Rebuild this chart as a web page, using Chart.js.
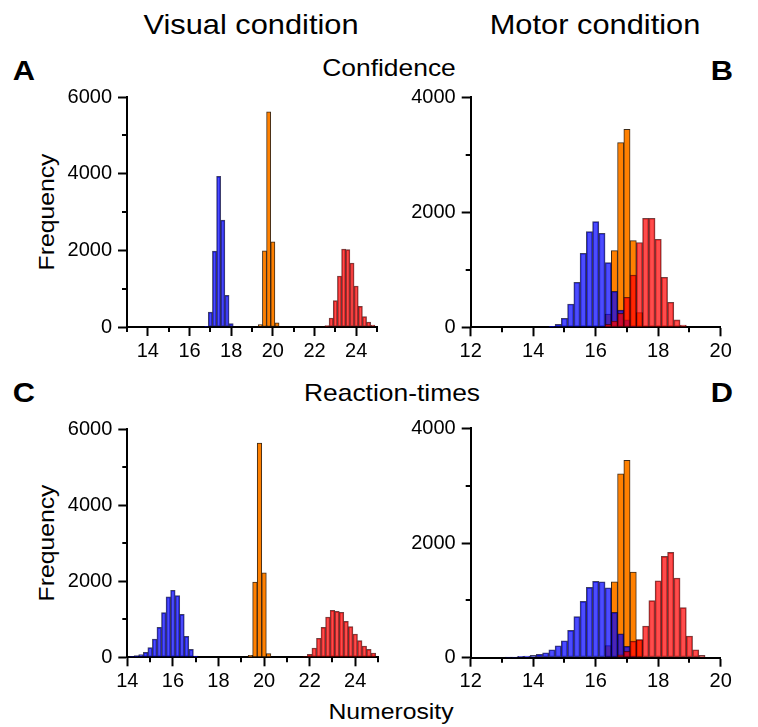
<!DOCTYPE html>
<html>
<head>
<meta charset="utf-8">
<script src="https://cdn.jsdelivr.net/npm/chart.js@4.4.1/dist/chart.umd.min.js"></script>
<style>
  body { margin: 0; background: #fff; }
  #wrap { position: relative; width: 758px; height: 727px; font-family: "Liberation Sans", Arial, sans-serif; color: #000; }
  canvas { position: absolute; }
  .lbl { position: absolute; white-space: nowrap; transform: translate(-50%, -50%) scaleX(1.1); line-height: 1; }
  .big { font-size: 28px; }
  .sub { font-size: 24px; }
  .let { font-size: 28px; font-weight: bold; }
  .axt { font-size: 22.5px; }
  .rot { transform: translate(-50%, -50%) rotate(-90deg) scaleX(1.1); }
</style>
</head>
<body>
<div id="wrap">
  <div class="lbl big" style="left:251px; top:25px;">Visual condition</div>
  <div class="lbl big" style="left:595px; top:25px;">Motor condition</div>
  <div class="lbl let" style="left:24px; top:71px;">A</div>
  <div class="lbl let" style="left:722px; top:71px;">B</div>
  <div class="lbl let" style="left:24px; top:393px;">C</div>
  <div class="lbl let" style="left:722px; top:393px;">D</div>
  <div class="lbl sub" style="left:389px; top:68px;">Confidence</div>
  <div class="lbl sub" style="left:392px; top:393px;">Reaction-times</div>
  <div class="lbl axt rot" style="left:47px; top:212px;">Frequency</div>
  <div class="lbl axt rot" style="left:47px; top:543px;">Frequency</div>
  <div class="lbl axt" style="left:391px; top:712px;">Numerosity</div>

  <canvas id="chartA" width="330" height="296" style="left:60px; top:79px;"></canvas>
  <canvas id="chartB" width="345" height="296" style="left:400px; top:79px;"></canvas>
  <canvas id="chartC" width="330" height="294" style="left:60px; top:411px;"></canvas>
  <canvas id="chartD" width="345" height="295" style="left:400px; top:410px;"></canvas>
</div>
<script>
// Panel A - visual condition, confidence
const aBlueX = [16.8, 17.0, 17.2, 17.4, 17.6, 17.8, 18.0];
const aBlueY = [20, 390, 1980, 3930, 2790, 826, 87];
const aOrangeX = [19.4, 19.6, 19.8, 20.0, 20.2];
const aOrangeY = [60, 1990, 5610, 2220, 110];
const aRedX = [22.6, 22.8, 23.0, 23.2, 23.4, 23.6, 23.8, 24.0, 24.2, 24.4, 24.6, 24.8];
const aRedY = [35, 235, 690, 1330, 2035, 2020, 1670, 1070, 540, 270, 130, 52];

// Panel B - motor condition, confidence
const bBlueX = [14.6, 14.8, 15.0, 15.2, 15.4, 15.6, 15.8, 16.0, 16.2, 16.4, 16.6, 16.8, 17.0, 17.2];
const bBlueY = [15, 52, 157, 406, 783, 1288, 1665, 1839, 1636, 1125, 626, 300, 128, 20];
const bOrangeX = [16.4, 16.6, 16.8, 17.0, 17.2, 17.4];
const bOrangeY = [230, 1334, 3213, 3445, 1508, 254];
const bRedX = [16.4, 16.6, 16.8, 17.0, 17.2, 17.4, 17.6, 17.8, 18.0, 18.2, 18.4, 18.6, 18.8];
const bRedY = [50, 110, 244, 522, 910, 1475, 1897, 1897, 1531, 870, 435, 128, 40];

// Panel C - visual condition, reaction-times
const cBlueX = [14.2, 14.4, 14.6, 14.8, 15.0, 15.2, 15.4, 15.6, 15.8, 16.0, 16.2, 16.4, 16.6, 16.8, 17.0];
const cBlueY = [18, 44, 70, 131, 254, 482, 788, 1174, 1586, 1761, 1621, 1130, 552, 210, 35];
const cOrangeX = [19.4, 19.6, 19.8, 20.0, 20.2];
const cOrangeY = [50, 1980, 5630, 2220, 96];
const cRedX = [21.8, 22.0, 22.2, 22.4, 22.6, 22.8, 23.0, 23.2, 23.4, 23.6, 23.8, 24.0, 24.2, 24.4, 24.6, 24.8];
const cRedY = [15, 79, 245, 500, 788, 1060, 1235, 1209, 1183, 946, 806, 613, 438, 298, 210, 114];

// Panel D - motor condition, reaction-times
const dBlueX = [13.2, 13.4, 13.6, 13.8, 14.0, 14.2, 14.4, 14.6, 14.8, 15.0, 15.2, 15.4, 15.6, 15.8, 16.0, 16.2, 16.4, 16.6, 16.8, 17.0, 17.2];
const dBlueY = [12, 12, 23, 29, 41, 58, 87, 139, 209, 296, 476, 715, 982, 1226, 1330, 1325, 1220, 790, 418, 198, 30];
const dOrangeX = [16.4, 16.6, 16.8, 17.0, 17.2, 17.4];
const dOrangeY = [210, 1325, 3207, 3440, 1494, 310];
const dRedX = [16.8, 17.0, 17.2, 17.4, 17.6, 17.8, 18.0, 18.2, 18.4, 18.6, 18.8, 19.0, 19.2, 19.4];
const dRedY = [52, 110, 290, 314, 552, 994, 1342, 1766, 1836, 1389, 872, 378, 139, 41];

const FONT = '"Liberation Sans", Arial, sans-serif';

function toPoints(xs, ys) {
    return xs.map((x, i) => ({ x: x, y: ys[i] }));
}

// short ticks for the unlabelled (odd) steps
const minorTicks = {
    id: 'minorTicks',
    afterDraw(chart) {
        const ctx = chart.ctx;
        const xs = chart.scales.x, ys = chart.scales.y;
        ctx.save();
        ctx.strokeStyle = '#000';
        ctx.lineWidth = 2;
        xs.ticks.forEach(t => {
            if (t.value % 2 === 0) return;
            const px = Math.round(xs.getPixelForValue(t.value));
            ctx.beginPath();
            ctx.moveTo(px, xs.top);
            ctx.lineTo(px, xs.top + 5);
            ctx.stroke();
        });
        ys.ticks.forEach(t => {
            if (t.value % 2000 === 0) return;
            const py = Math.round(ys.getPixelForValue(t.value));
            ctx.beginPath();
            ctx.moveTo(ys.right, py);
            ctx.lineTo(ys.right - 5, py);
            ctx.stroke();
        });
        ctx.restore();
    }
};

function makePanel(id, series, xMin, xMax, yMax, g) {
    const ctx = document.getElementById(id).getContext('2d');
    return new Chart(ctx, {
        type: 'bar',
        data: {
            datasets: [{
                label: 'high',
                data: toPoints(series.redX, series.redY),
                backgroundColor: 'rgba(255, 0, 0, 0.7)',
                borderColor: 'rgba(70, 0, 0, 0.75)',
                borderWidth: 1
            }, {
                label: 'low',
                data: toPoints(series.blueX, series.blueY),
                backgroundColor: 'rgba(0, 0, 255, 0.7)',
                borderColor: 'rgba(0, 0, 50, 0.75)',
                borderWidth: 1
            }, {
                label: 'ideal',
                data: toPoints(series.orangeX, series.orangeY),
                backgroundColor: '#ff8000',
                borderColor: 'rgba(40, 20, 0, 0.9)',
                borderWidth: 1
            }]
        },
        options: {
            responsive: false,
            animation: false,
            layout: { padding: { top: g.top, right: g.right, left: 0, bottom: 0 } },
            datasets: {
                bar: { grouped: false, barPercentage: 1, categoryPercentage: 1, borderSkipped: false }
            },
            plugins: { legend: { display: false }, tooltip: { enabled: false } },
            scales: {
                x: {
                    type: 'linear',
                    min: xMin,
                    max: xMax,
                    offset: false,
                    afterFit: s => { s.height = g.xh; },
                    border: { display: true, color: '#000', width: 2 },
                    grid: {
                        offset: false,
                        drawOnChartArea: false,
                        tickLength: 9,
                        tickWidth: 2,
                        tickColor: c => (c.tick && c.tick.value % 2 === 0 ? '#000' : 'rgba(0,0,0,0)')
                    },
                    ticks: {
                        stepSize: 1,
                        autoSkip: false,
                        maxRotation: 0,
                        padding: 3,
                        color: '#000',
                        font: { family: FONT, size: 20 },
                        callback: v => (v % 2 === 0 ? v : '')
                    }
                },
                y: {
                    min: 0,
                    max: yMax,
                    afterFit: s => { s.width = g.yw; },
                    border: { display: true, color: '#000', width: 2 },
                    grid: {
                        drawOnChartArea: false,
                        tickLength: 9,
                        tickWidth: 2,
                        tickColor: c => (c.tick && c.tick.value % 2000 === 0 ? '#000' : 'rgba(0,0,0,0)')
                    },
                    ticks: {
                        stepSize: 1000,
                        autoSkip: false,
                        padding: 6,
                        color: '#000',
                        font: { family: FONT, size: 20 },
                        callback: v => (v % 2000 === 0 ? v : '')
                    }
                }
            }
        },
        plugins: [minorTicks]
    });
}

makePanel('chartA', { blueX: aBlueX, blueY: aBlueY, orangeX: aOrangeX, orangeY: aOrangeY, redX: aRedX, redY: aRedY },
    13, 25, 6000, { top: 18, right: 13, yw: 67, xh: 48 });
makePanel('chartB', { blueX: bBlueX, blueY: bBlueY, orangeX: bOrangeX, orangeY: bOrangeY, redX: bRedX, redY: bRedY },
    12, 20, 4000, { top: 18.3, right: 24.3, yw: 70.7, xh: 47.7 });
makePanel('chartC', { blueX: cBlueX, blueY: cBlueY, orangeX: cOrangeX, orangeY: cOrangeY, redX: cRedX, redY: cRedY },
    14, 25, 6000, { top: 18, right: 12, yw: 67.3, xh: 47.7 });
makePanel('chartD', { blueX: dBlueX, blueY: dBlueY, orangeX: dOrangeX, orangeY: dOrangeY, redX: dRedX, redY: dRedY },
    12, 20, 4000, { top: 18.3, right: 24.3, yw: 70.7, xh: 47.3 });
</script>
</body>
</html>
